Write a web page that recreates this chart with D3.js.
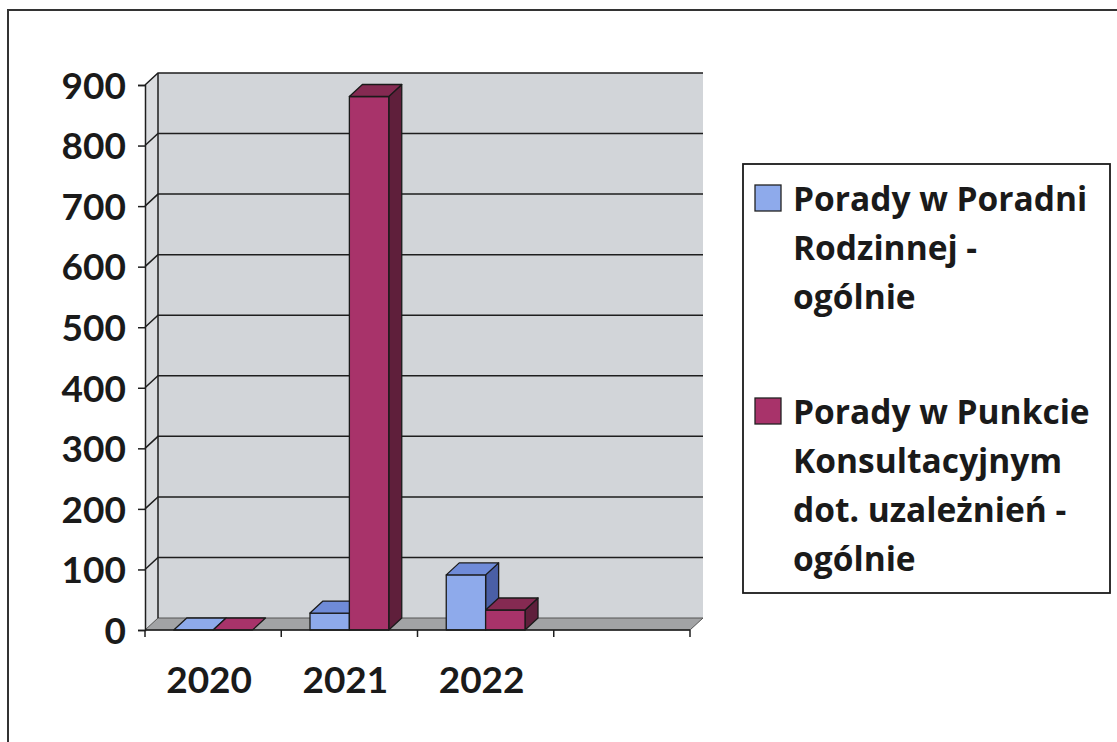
<!DOCTYPE html>
<meta charset="utf-8">
<script src="https://cdn.jsdelivr.net/npm/d3@7"></script>
<style type="text/css">
body { margin: 0; background: #fff; }
text { font-family: Lato, "Open Sans", sans-serif; font-weight: bold; fill: #1a1a1a; }
.legend text { font-family: "Open Sans", Lato, sans-serif; }
.grid { stroke: #1e1e1e; stroke-width: 1.5; }
.axis line, .axis path { stroke: #1e1e1e; stroke-width: 1.5; }
</style>
<body>
</body>
<script>
var years = ["2020", "2021", "2022"];
var series = ["Porady w Poradni Rodzinnej - ogólnie", "Porady w Punkcie Konsultacyjnym dot. uzależnień - ogólnie"];
var poradnia = [0, 28, 91];
var punkt = [0, 881, 33];
var yTicks = [0, 100, 200, 300, 400, 500, 600, 700, 800, 900];
var legendLines = [["Porady w Poradni", "Rodzinnej -", "ogólnie"],
                   ["Porady w Punkcie", "Konsultacyjnym", "dot. uzależnień -", "ogólnie"]];

var colors = [
  {front: "#8eaaeb", top: "#6f8bd8", side: "#4a5fa6"},
  {front: "#a8336a", top: "#852a52", side: "#5f1f3b"}
];

var W = 1117, H = 742;
var dx = 13, dy = -12;   // depth offset of the 3d box

var svg = d3.select("body").append("svg")
    .attr("width", W)
    .attr("height", H);

// outer frame
svg.append("rect")
    .attr("x", 8).attr("y", 10)
    .attr("width", W + 20).attr("height", H + 20)
    .attr("fill", "none").attr("stroke", "#333").attr("stroke-width", 2);

var xScale = d3.scaleBand()
    .domain(years.concat([""]))
    .range([145, 690]);

var inner = d3.scaleBand()
    .domain([0, 1])
    .range([0, xScale.bandwidth()])
    .paddingOuter(0.73);

var yScale = d3.scaleLinear()
    .domain([0, 900])
    .range([630, 85]);

var x0 = 145, x1 = 690, y0 = yScale(0), yTop = yScale(900);

// back wall
svg.append("rect")
    .attr("x", x0 + dx).attr("y", yTop + dy)
    .attr("width", x1 - x0).attr("height", y0 - yTop)
    .attr("fill", "#d2d5d9");

// side wall (left)
svg.append("path")
    .attr("d", "M" + x0 + "," + y0 + "L" + x0 + "," + yTop + "L" + (x0 + dx) + "," + (yTop + dy) + "L" + (x0 + dx) + "," + (y0 + dy) + "Z")
    .attr("fill", "#dadcdf");

// floor
svg.append("path")
    .attr("d", "M" + x0 + "," + y0 + "L" + x1 + "," + y0 + "L" + (x1 + dx) + "," + (y0 + dy) + "L" + (x0 + dx) + "," + (y0 + dy) + "Z")
    .attr("fill", "#a2a3a5").attr("stroke", "#555").attr("stroke-width", 1);

// gridlines on back and side walls
yTicks.forEach(function(t) {
  if (t == 0) return;
  var y = yScale(t);
  svg.append("path")
      .attr("class", "grid")
      .attr("fill", "none")
      .attr("d", "M" + x0 + "," + y + "L" + (x0 + dx) + "," + (y + dy) + "L" + (x1 + dx) + "," + (y + dy));
});
svg.append("line").attr("class", "grid")
    .attr("x1", x0 + dx).attr("x2", x0 + dx)
    .attr("y1", y0 + dy).attr("y2", yTop + dy);

// bars
function drawBar(cat, s, v) {
  var bx = xScale(cat) + inner(s);
  var bw = inner.bandwidth();
  var by = yScale(v);
  var c = colors[s];
  var g = svg.append("g").attr("stroke", "#1a1a1a").attr("stroke-width", 1.3).attr("stroke-linejoin", "round");
  if (v > 0) {
    g.append("path")
        .attr("fill", c.side)
        .attr("d", "M" + (bx + bw) + "," + y0 + "L" + (bx + bw + dx) + "," + (y0 + dy) + "L" + (bx + bw + dx) + "," + (by + dy) + "L" + (bx + bw) + "," + by + "Z");
    g.append("rect")
        .attr("fill", c.front)
        .attr("x", bx).attr("y", by)
        .attr("width", bw).attr("height", y0 - by);
  }
  g.append("path")
      .attr("fill", v > 0 ? c.top : c.front)
      .attr("d", "M" + bx + "," + by + "L" + (bx + bw) + "," + by + "L" + (bx + bw + dx) + "," + (by + dy) + "L" + (bx + dx) + "," + (by + dy) + "Z");
}

years.forEach(function(yr, i) {
  drawBar(yr, 0, poradnia[i]);
  drawBar(yr, 1, punkt[i]);
});

// y axis
var yAxis = svg.append("g")
    .attr("class", "axis")
    .attr("transform", "translate(" + x0 + ",0)")
    .call(d3.axisLeft(yScale).tickValues(yTicks).tickSize(7).tickPadding(12).tickFormat(d3.format("d")));
yAxis.selectAll("text").attr("font-size", 37).attr("font-family", null).attr("fill", null).attr("dy", "0.36em");

// x axis
var xAxis = svg.append("g")
    .attr("class", "axis")
    .attr("transform", "translate(0," + y0 + ")")
    .call(d3.axisBottom(xScale.copy().range([x0, x1])).tickSize(0).tickFormat(function(d) { return d; }));
xAxis.select(".domain").remove();
xAxis.append("line").attr("x1", x0).attr("x2", x1).attr("y1", 0).attr("y2", 0);
xScale.domain().concat(["end"]).forEach(function(d, i) {
  var xx = i < 4 ? xScale(d) : x1;
  xAxis.append("line").attr("x1", xx).attr("x2", xx).attr("y1", 0).attr("y2", 7);
});
xAxis.selectAll(".tick text")
    .attr("font-size", 37).attr("font-family", null).attr("fill", null)
    .attr("y", 50).attr("dy", "0.36em")
    .attr("transform", "translate(-4,0)");

// legend
var lg = svg.append("g").attr("class", "legend").attr("transform", "translate(743,164)");
lg.append("rect")
    .attr("width", 367).attr("height", 429)
    .attr("fill", "#fff").attr("stroke", "#1a1a1a").attr("stroke-width", 1.8);

var entryY = [20, 233];
series.forEach(function(name, s) {
  var eg = lg.append("g").attr("transform", "translate(0," + entryY[s] + ")");
  eg.append("rect")
      .attr("x", 12).attr("y", 1)
      .attr("width", 26).attr("height", 26)
      .attr("fill", colors[s].front).attr("stroke", "#222").attr("stroke-width", 1.3);
  eg.append("text")
      .attr("x", 50)
      .attr("font-size", 33.5)
      .selectAll("tspan")
      .data(legendLines[s])
      .enter().append("tspan")
      .attr("x", 50)
      .attr("y", function(d, i) { return 27 + i * 49; })
      .text(function(d) { return d; });
});
</script>
